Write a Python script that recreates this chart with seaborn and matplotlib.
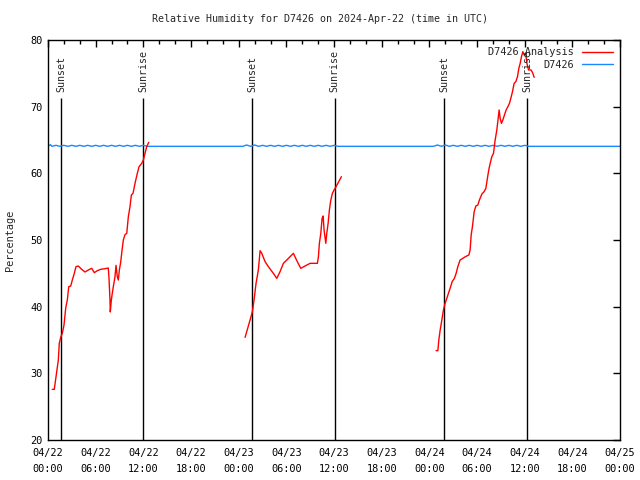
import pandas as pd
import matplotlib
matplotlib.use('Agg')
import matplotlib.pyplot as plt
import matplotlib.dates as mdates
import seaborn as sns

START = pd.Timestamp('2024-04-22 00:00')

# Analysis readings (hours after 04/22 00:00 UTC, relative humidity %)
day1_hours = [0.54, 0.79, 1.01, 1.30, 1.42, 1.60, 1.80, 2.01, 2.23, 2.43, 2.61, 2.86, 3.06, 3.31,
              3.52, 3.81, 4.24, 4.66, 5.07, 5.50, 5.83, 6.21, 6.63, 7.18, 7.59, 7.68, 7.80, 7.84,
              7.97, 8.09, 8.22, 8.43, 8.56, 8.72, 8.85, 8.98, 9.15, 9.32, 9.48, 9.69, 9.91, 10.11,
              10.32, 10.49, 10.70, 10.95, 11.24, 11.46, 11.80, 12.00, 12.21, 12.42, 12.68]
day1_rh = [27.6, 27.6, 29.5, 32.0, 34.5, 35.4, 36.0, 37.2, 39.8, 41.0, 43.0, 43.1, 44.0, 45.0,
           46.0, 46.1, 45.6, 45.2, 45.5, 45.75, 45.1, 45.4, 45.6, 45.7, 45.8, 44.2, 41.0, 39.2,
           41.0, 42.0, 43.0, 44.5, 46.2, 44.5, 44.0, 45.5, 46.7, 48.5, 50.0, 50.8, 51.0, 53.5,
           55.0, 56.75, 57.0, 58.5, 60.0, 61.0, 61.5, 62.0, 63.0, 64.0, 64.65]

day2_hours = [24.80, 25.09, 25.43, 25.72, 25.93, 26.18, 26.47, 26.69, 26.90, 27.32, 27.73, 28.36,
              28.79, 29.20, 29.62, 30.05, 30.46, 30.88, 31.31, 31.81, 32.35, 32.98, 33.90, 34.03,
              34.15, 34.33, 34.49, 34.62, 34.74, 34.96, 35.08, 35.25, 35.41, 35.59, 35.79, 36.00,
              36.25, 36.59, 36.92]
day2_rh = [35.4, 36.6, 38.0, 39.25, 41.0, 43.5, 45.5, 48.4, 48.0, 46.75, 46.0, 45.0,
           44.25, 45.25, 46.5, 47.0, 47.5, 48.0, 46.9, 45.75, 46.1, 46.5, 46.5, 47.5,
           49.5, 51.0, 53.25, 53.6, 51.5, 49.5, 51.0, 52.5, 54.5, 56.0, 57.0, 57.5,
           58.0, 58.75, 59.5]

day3_hours = [48.84, 49.06, 49.18, 49.35, 49.56, 49.76, 49.97, 50.19, 50.39, 50.60, 50.86, 51.14,
              51.36, 51.57, 51.86, 52.20, 52.53, 52.96, 53.12, 53.25, 53.41, 53.63, 53.84, 54.09,
              54.29, 54.60, 54.88, 55.10, 55.26, 55.43, 55.55, 55.85, 56.06, 56.27, 56.48, 56.65,
              56.77, 56.90, 57.06, 57.24, 57.44, 57.65, 57.87, 58.07, 58.24, 58.45, 58.66, 58.87,
              59.08, 59.25, 59.42, 59.58, 59.76, 59.92, 60.10, 60.27, 60.47, 60.80, 61.01, 61.18]
day3_rh = [33.4, 33.4, 35.0, 36.5, 38.0, 39.5, 40.5, 41.25, 42.0, 42.75, 43.75, 44.25,
           45.0, 46.0, 47.0, 47.25, 47.5, 47.75, 48.5, 50.75, 52.0, 54.25, 55.1, 55.25,
           56.0, 56.9, 57.25, 57.75, 59.0, 60.25, 61.0, 62.5, 63.0, 65.0, 66.5, 68.25,
           69.5, 68.25, 67.5, 68.0, 68.75, 69.5, 70.0, 70.5, 71.25, 72.25, 73.5, 73.75,
           74.5, 75.75, 76.5, 77.5, 78.25, 77.75, 78.0, 76.5, 75.5, 75.5, 75.0, 74.4]

# Station series
station_hours = [0.0, 0.3, 0.5, 1.0, 1.5, 2.0, 2.5, 3.0, 3.5, 4.0, 4.5, 5.0, 5.5, 6.0, 6.5, 7.0,
                 7.5, 8.0, 8.5, 9.0, 9.5, 10.0, 10.5, 11.0, 11.5, 12.0, 12.5,
                 24.5, 25.0, 25.5, 26.0, 26.5, 27.0, 27.5, 28.0, 28.5, 29.0, 29.5, 30.0, 30.5,
                 31.0, 31.5, 32.0, 32.5, 33.0, 33.5, 34.0, 34.5, 35.0, 35.5, 36.0, 36.5,
                 48.5, 49.0, 49.5, 50.0, 50.5, 51.0, 51.5, 52.0, 52.5, 53.0, 53.5, 54.0, 54.5,
                 55.0, 55.5, 56.0, 56.5, 57.0, 57.5, 58.0, 58.5, 59.0, 59.5, 60.0, 60.5, 61.0,
                 72.0]
station_rh = [64.05, 64.3, 64.05, 64.2, 64.05, 64.2, 64.05, 64.2, 64.05, 64.2, 64.05, 64.2, 64.05,
              64.2, 64.05, 64.2, 64.05, 64.2, 64.05, 64.2, 64.05, 64.2, 64.05, 64.2, 64.05, 64.2,
              64.05,
              64.05, 64.25, 64.05, 64.25, 64.05, 64.2, 64.05, 64.2, 64.05, 64.2, 64.05, 64.2, 64.05,
              64.2, 64.05, 64.2, 64.05, 64.2, 64.05, 64.2, 64.05, 64.2, 64.05, 64.2, 64.05,
              64.05, 64.25, 64.05, 64.25, 64.05, 64.2, 64.05, 64.2, 64.05, 64.2, 64.05, 64.2, 64.05,
              64.2, 64.05, 64.2, 64.05, 64.2, 64.05, 64.2, 64.05, 64.2, 64.05, 64.2, 64.05, 64.05,
              64.05]

sunset_hours = [1.64, 25.68, 49.84]
sunrise_hours = [11.96, 36.07, 60.27]


def to_time(hours):
  return START + pd.to_timedelta(pd.Series(hours), unit='h')


sns.set_style('white')
plt.rcParams['font.family'] = ['DejaVu Sans Mono', 'DejaVu Sans']

fig, ax = plt.subplots(figsize=(6.4, 4.8), dpi=100)
fig.subplots_adjust(left=0.075, right=0.969, bottom=0.0833, top=0.9167)

# Analysis lines, one segment per day
for i, (hrs, rh) in enumerate([(day1_hours, day1_rh), (day2_hours, day2_rh), (day3_hours, day3_rh)]):
  df = pd.DataFrame({'time': to_time(hrs), 'rh': rh})
  sns.lineplot(data=df, x='time', y='rh', ax=ax, color='#ff0000', lw=1.0, zorder=3,
               label='D7426 Analysis' if i == 0 else None)

station_df = pd.DataFrame({'time': to_time(station_hours), 'rh': station_rh})
sns.lineplot(data=station_df, x='time', y='rh', ax=ax, color='#1a88ff', lw=1.0, zorder=2,
             label='D7426')

# Sunset / sunrise markers
for name, hrs in [('Sunset', sunset_hours), ('Sunrise', sunrise_hours)]:
  times = to_time(hrs)
  ax.vlines(times, 20, 71.3, color='black', lw=1.0, zorder=1)
  for t in times:
    ax.text(t, 72.2, name, rotation=90, ha='center', va='bottom', fontsize=7.2)

ax.set_xlim(START, START + pd.Timedelta(hours=72))
ax.set_ylim(20, 80)
ax.set_yticks(range(20, 81, 10))
ax.xaxis.set_major_locator(mdates.HourLocator(byhour=[0, 6, 12, 18]))
ax.xaxis.set_minor_locator(mdates.HourLocator(interval=2))
ax.xaxis.set_major_formatter(mdates.DateFormatter('%m/%d\n%H:%M'))
for lbl in ax.get_xticklabels():
  lbl.set_linespacing(1.65)

ax.tick_params(which='both', direction='in', top=True, right=True, width=1.0, labelsize=7.4, colors='black')
ax.tick_params(which='major', length=5, pad=4)
ax.tick_params(axis='x', which='major', pad=6)
ax.tick_params(which='minor', length=3)
for s in ax.spines.values():
  s.set_color('black')
  s.set_linewidth(1.0)

ax.set_xlabel('')
ax.set_ylabel('Percentage', fontsize=7.4, labelpad=11)
fig.text(0.5, 1 - 19 / 480, 'Relative Humidity for D7426 on 2024-Apr-22 (time in UTC)',
         ha='center', va='center', fontsize=7.2)

ax.legend(loc='upper right', frameon=False, markerfirst=False, fontsize=7.4, handlelength=3.0,
          handletextpad=0.8, labelspacing=0.25, borderaxespad=0.3)

fig.savefig('out.png', dpi=100)
